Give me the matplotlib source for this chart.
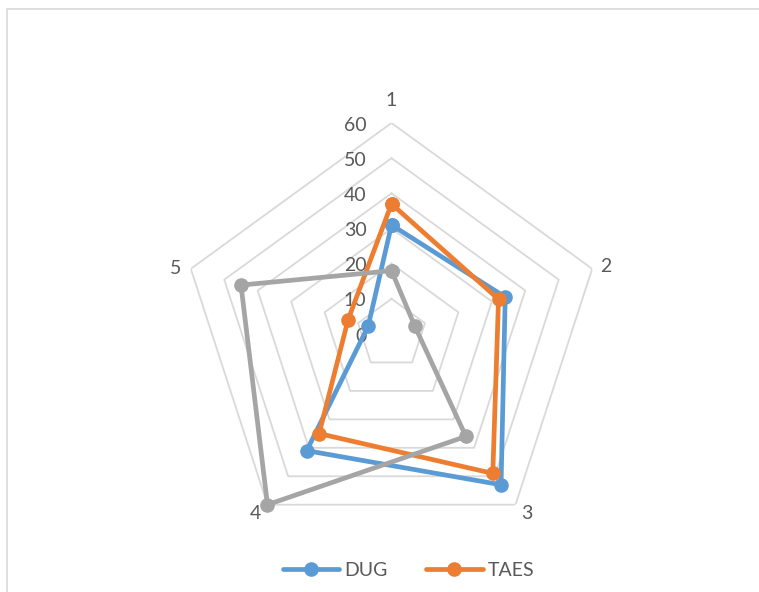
import numpy as np
import matplotlib
matplotlib.use("Agg")
import matplotlib.pyplot as plt
from matplotlib.lines import Line2D
from matplotlib.patches import Rectangle

plt.rcParams['font.family'] = ['Lato', 'DejaVu Sans']

categories = ["1", "2", "3", "4", "5"]
dug = [31, 34, 53, 41, 7]
taes = [37, 32, 49, 35, 13]
series_c = [18, 7, 36, 60, 45]
ring_values = [0, 10, 20, 30, 40, 50, 60]

BLUE = "#5B9BD5"
ORANGE = "#ED7D31"
GRAY = "#A5A5A5"
GRID = "#D9D9D9"
TEXT = "#595959"

W, H = 759, 592
fig = plt.figure(figsize=(W / 100, H / 100), dpi=100)

# chart area frame
fig.patches.append(Rectangle((7 / W, -0.1), 1.2, 1 - 9 / H + 0.1,
                             transform=fig.transFigure, fill=False,
                             edgecolor="#D9D9D9", linewidth=1.2))

cx, cy, R = 391.5, 334, 211
ax = fig.add_axes([(cx - R) / W, (H - cy - R) / H, 2 * R / W, 2 * R / H],
                  projection="polar")
ax.set_theta_offset(np.pi / 2)
ax.set_theta_direction(-1)
ax.set_ylim(0, 60)
ax.grid(False)
ax.spines["polar"].set_visible(False)
ax.set_xticks([])
ax.set_yticks([])
ax.patch.set_alpha(0)

n = len(categories)
angles = np.arange(n) * 2 * np.pi / n
closed = np.append(angles, angles[0])

# pentagon gridlines
for v in ring_values[1:]:
    ax.plot(closed, [v] * (n + 1), color=GRID, linewidth=1.3, zorder=1)

# value labels along the first axis
for v in ring_values:
    ax.annotate(str(v), xy=(0, v), xytext=(-18, -1.5), textcoords="offset points",
                ha="right", va="center", fontsize=14, color=TEXT)

# category labels
label_offsets = [(0, 16), (10, 1.5), (8, -6.5), (-9, -6.5), (-11, 0.2)]
for ang, lab, off in zip(angles, categories, label_offsets):
    ax.annotate(lab, xy=(ang, 60), xytext=off, textcoords="offset points",
                ha="center", va="center", fontsize=14, color=TEXT,
                annotation_clip=False)

for vals, col, z in [(dug, BLUE, 3), (taes, ORANGE, 4), (series_c, GRAY, 5)]:
    ax.plot(closed, vals + vals[:1], color=col, linewidth=3.4, marker="o",
            markersize=9.5, zorder=z, solid_joinstyle="round", clip_on=False)

handles = [
    Line2D([], [], color=BLUE, linewidth=3.4, marker="o", markersize=9.5,
           solid_capstyle="round"),
    Line2D([], [], color=ORANGE, linewidth=3.4, marker="o", markersize=9.5,
           solid_capstyle="round"),
]
fig.legend(handles, ["DUG", "TAES"], loc="center", bbox_to_anchor=(0.538, 0.036),
           ncol=2, frameon=False, fontsize=14, handlelength=2.9,
           handletextpad=0.25, columnspacing=2.0, labelcolor=TEXT)

fig.savefig("out.png", dpi=100, facecolor="white")
